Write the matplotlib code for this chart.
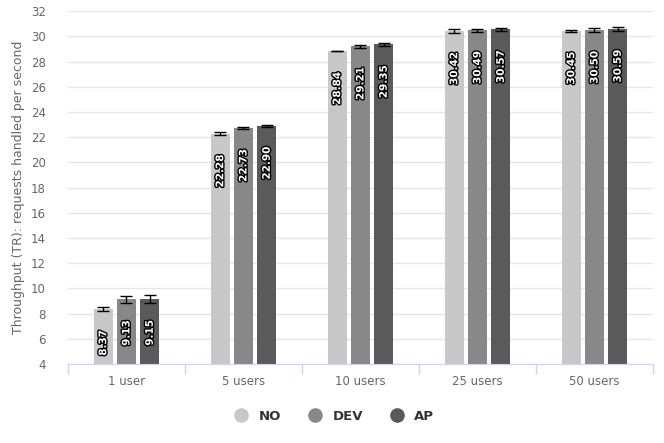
#!/usr/bin/env python3
"""throughput_bars.py"""

import matplotlib

matplotlib.use("Agg")
import matplotlib.patheffects as pe
import matplotlib.pyplot as plt
from matplotlib.lines import Line2D
import numpy as np

categories = ["1 user", "5 users", "10 users", "25 users", "50 users"]
series_names = ["NO", "DEV", "AP"]
no_values = [8.37, 22.28, 28.84, 30.42, 30.45]
dev_values = [9.13, 22.73, 29.21, 30.49, 30.50]
ap_values = [9.15, 22.90, 29.35, 30.57, 30.59]
no_errors = [0.17, 0.14, 0.03, 0.18, 0.07]
dev_errors = [0.28, 0.08, 0.12, 0.12, 0.12]
ap_errors = [0.30, 0.08, 0.15, 0.12, 0.15]
colors = ["#c8c8c8", "#888888", "#5a5a5a"]
y_ticks = list(range(4, 33, 2))


def plot(ax: plt.Axes):
    x = np.arange(len(categories))
    step = 0.199
    width = 0.165
    values = [no_values, dev_values, ap_values]
    errors = [no_errors, dev_errors, ap_errors]

    for i, (vals, errs) in enumerate(zip(values, errors)):
        pos = x + (i - 1) * step
        ax.bar(pos, np.array(vals) - 4, bottom=4, width=width, color=colors[i],
               linewidth=0, zorder=2)
        ax.errorbar(pos, vals, yerr=errs, fmt="none", ecolor="black",
                    elinewidth=1, capsize=4, capthick=1, zorder=3)
        for p, v in zip(pos, vals):
            ax.annotate(f"{v:.2f}", (p, v), xytext=(0, -15),
                        textcoords="offset points", rotation=90,
                        ha="center", va="top", fontsize=7.5,
                        fontweight="bold", color="white", zorder=4,
                        path_effects=[pe.withStroke(linewidth=2,
                                                    foreground="black")])

    ax.set_xlim(-0.5, len(categories) - 0.5)
    ax.set_ylim(4, 32)
    ax.set_yticks(y_ticks)
    ax.tick_params(axis="y", length=0, labelsize=8.5, labelcolor="#666666",
                   pad=16)
    ax.grid(axis="y", color="#e6e6e6", linewidth=1, zorder=0)
    ax.set_axisbelow(True)

    ax.set_xticks(np.arange(len(categories) + 1) - 0.5)
    ax.set_xticklabels([])
    ax.set_xticks(x, minor=True)
    ax.set_xticklabels(categories, minor=True)
    ax.tick_params(axis="x", which="major", length=7, color="#ccd6eb",
                   width=1)
    ax.tick_params(axis="x", which="minor", length=0, labelsize=8.5,
                   labelcolor="#666666", pad=8)

    for side in ["top", "right", "left"]:
        ax.spines[side].set_visible(False)
    ax.spines["bottom"].set_color("#ccd6eb")

    ax.set_ylabel("Throughput (TR): requests handled per second",
                  fontsize=9, color="#666666", labelpad=4)

    handles = [Line2D([], [], marker="o", linestyle="none", markersize=9.5,
                      markerfacecolor=c, markeredgecolor=c) for c in colors]
    leg = ax.legend(handles, series_names, loc="upper center",
                    bbox_to_anchor=(0.45, -0.095), ncol=3, frameon=False,
                    handletextpad=0.3, columnspacing=1.6,
                    prop={"weight": "bold", "size": 9.5})
    for t in leg.get_texts():
        t.set_color("#333333")


def main():
    fig = plt.figure(figsize=(6.64, 4.43), dpi=100)
    ax = fig.add_axes([0.1024, 0.178, 0.881, 0.797])
    plot(ax)
    fig.savefig("out.png", dpi=100)


if __name__ == "__main__":
    main()
